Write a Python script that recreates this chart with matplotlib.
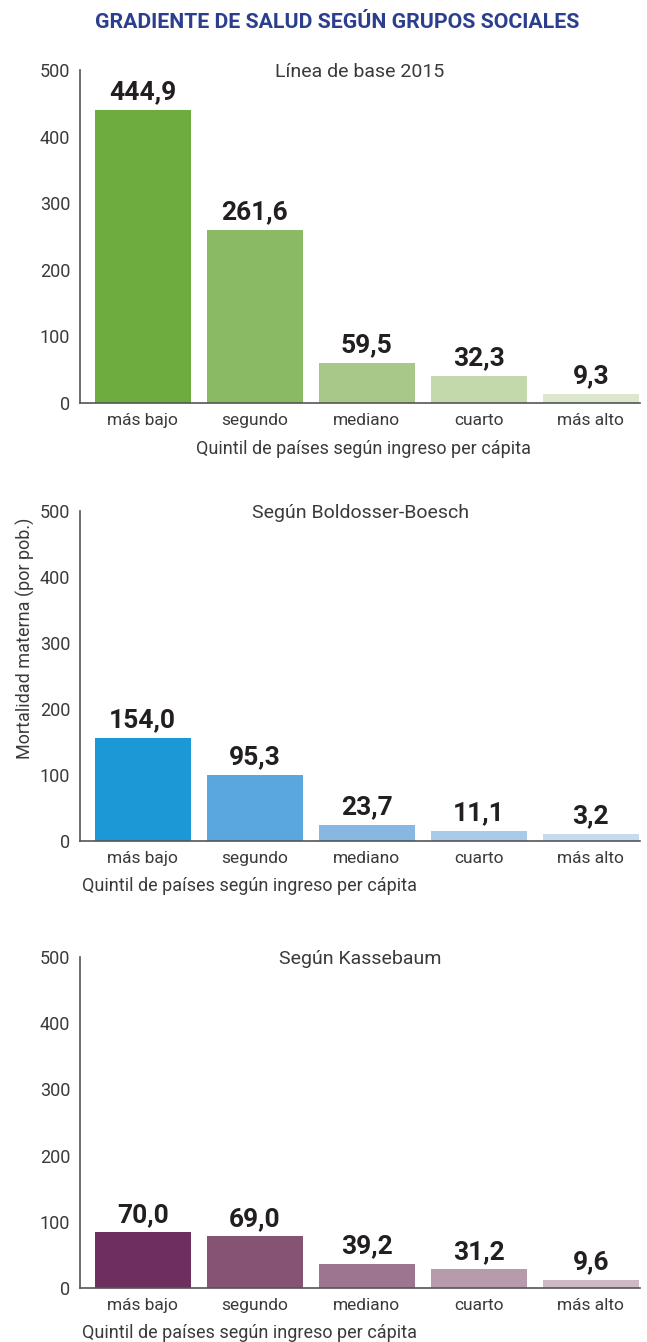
import matplotlib
matplotlib.use('Agg')
import matplotlib.pyplot as plt
import numpy as np

plt.rcParams['font.family'] = ['Roboto', 'DejaVu Sans']

categorias = ['más bajo', 'segundo', 'mediano', 'cuarto', 'más alto']

base_alto = [440, 260, 60, 41, 14]
base_txt = ['444,9', '261,6', '59,5', '32,3', '9,3']
bb_alto = [156, 100, 24, 15, 11]
bb_txt = ['154,0', '95,3', '23,7', '11,1', '3,2']
kas_alto = [84, 78, 37, 28, 12]
kas_txt = ['70,0', '69,0', '39,2', '31,2', '9,6']

verdes = ['#6DAD3F', '#8BBA65', '#A8C889', '#C3D8AB', '#DCE8CD']
azules = ['#1A99D6', '#5AA7DD', '#86B8E2', '#A9CBEA', '#C7DBF0']
morados = ['#6E2F5F', '#855474', '#9E7590', '#B79AAB', '#CDB8C6']

titulos = ['Línea de base 2015', 'Según Boldosser-Boesch', 'Según Kassebaum']
xlab = 'Quintil de países según ingreso per cápita'

W, H = 647, 1342
fig = plt.figure(figsize=(W / 100, H / 100), dpi=100)

paneles = [
    (base_alto, base_txt, verdes, 70, 403),
    (bb_alto, bb_txt, azules, 511, 841),
    (kas_alto, kas_txt, morados, 957, 1288),
]

x = np.arange(len(categorias))
gris = '#3a3a3a'
for i, (alto, txt, cols, ytop, ybot) in enumerate(paneles):
    ax = fig.add_axes([80 / W, 1 - ybot / H, 560 / W, (ybot - ytop) / H])
    ax.bar(x, alto, width=0.86, color=cols)
    for xi, h, t in zip(x, alto, txt):
        ax.annotate(t, (xi, h), xytext=(0, 4), textcoords='offset points',
                    ha='center', va='bottom', fontsize=19, fontweight='bold',
                    color='#231f20')
    ax.set_ylim(0, 500)
    ax.set_xlim(-0.56, 4.44)
    ax.set_yticks([0, 100, 200, 300, 400, 500])
    ax.set_xticks(x)
    ax.set_xticklabels(categorias)
    ax.tick_params(length=0, labelsize=12.5, colors=gris, pad=7)
    ax.tick_params(axis='y', labelsize=13, pad=7)
    for s in ['top', 'right']:
        ax.spines[s].set_visible(False)
    for s in ['left', 'bottom']:
        ax.spines[s].set_color('#555555')
        ax.spines[s].set_linewidth(1.2)
    ax.text(0.5, 0.995, titulos[i], transform=ax.transAxes, ha='center',
            va='center', fontsize=14, color=gris)
    if i == 0:
        fig.text(364 / W, 1 - 449 / H, xlab, ha='center', va='center',
                 fontsize=13, color=gris)
    else:
        fig.text(82 / W, 1 - (ybot + 45) / H, xlab, ha='left', va='center',
                 fontsize=13, color=gris)

fig.text(25 / W, 1 - 638 / H, 'Mortalidad materna (por pob.)', rotation=90,
         ha='center', va='center', fontsize=13, color=gris)
fig.text(337 / W, 1 - 22 / H, 'GRADIENTE DE SALUD SEGÚN GRUPOS SOCIALES',
         ha='center', va='center', fontsize=15.3, fontweight='bold',
         color='#2B3F8E')

fig.savefig('out.png', dpi=100)
